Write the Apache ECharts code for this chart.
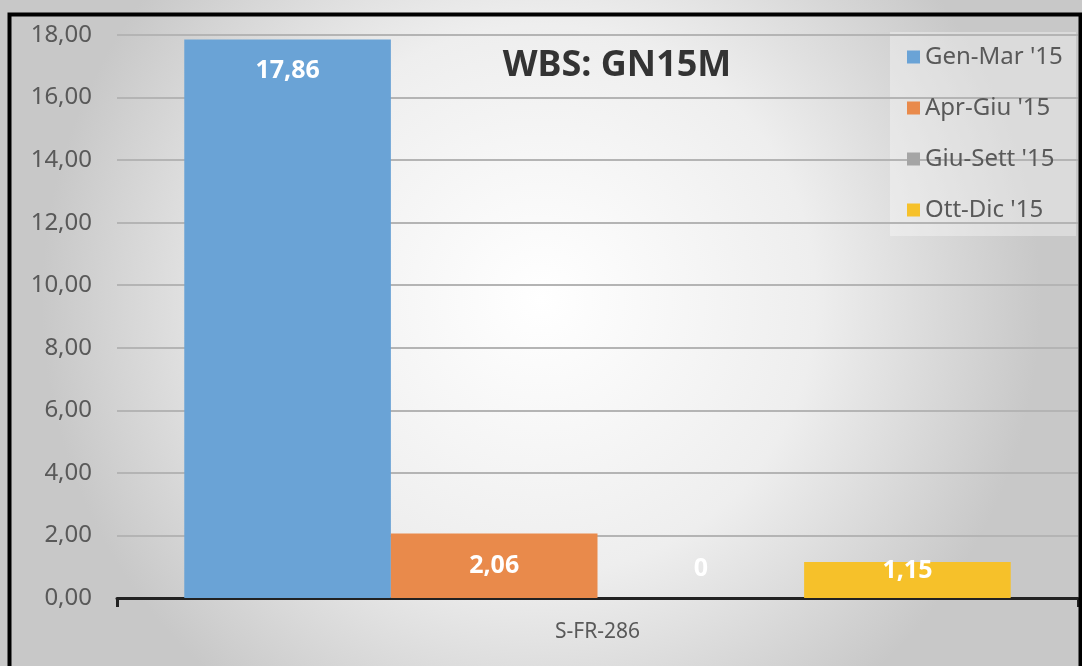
<!DOCTYPE html>
<html lang="it">
<head>
    <meta charset="UTF-8">
    <title>WBS: GN15M</title>
    <script src="https://cdn.jsdelivr.net/npm/echarts@6/dist/echarts.min.js"></script>
    <style>
        html, body { margin: 0; padding: 0; width: 100%; height: 100%; background: #fff; }
        #chart { width: 1082px; height: 666px; }
    </style>
</head>
<body>
<div id="chart"></div>
<script type="text/javascript">
    // dati
    var categories = ['S-FR-286'];
    var seriesNames = ["Gen-Mar '15", "Apr-Giu '15", "Giu-Sett '15", "Ott-Dic '15"];
    var seriesValues = [[17.86], [2.06], [0], [1.15]];
    var seriesColors = ['#6aa3d6', '#e98a4b', '#a5a5a5', '#f6c12a'];

    var FONT = '"Noto Sans", "Open Sans", sans-serif';

    function fmt(v) {
        return v.toFixed(2).replace('.', ',');
    }

    // posizione etichette come nell'originale
    var labelPos = [
        { position: 'insideTop', distance: 19 },
        { position: 'inside' },
        { position: 'inside', offset: [0, -29] },
        { position: 'inside', offset: [0, -9] }
    ];

    var series = seriesNames.map(function (name, i) {
        return {
            name: name,
            type: 'bar',
            barGap: 0,
            barCategoryGap: '14%',
            data: seriesValues[i],
            itemStyle: { color: seriesColors[i] },
            label: Object.assign({
                show: true,
                color: '#ffffff',
                fontWeight: 'bold',
                fontSize: 25,
                fontFamily: FONT,
                formatter: function (p) {
                    return p.value === 0 ? '0' : fmt(p.value);
                }
            }, labelPos[i])
        };
    });

    var myChart = echarts.init(document.getElementById('chart'));

    var option = {
        backgroundColor: {
            type: 'radial', x: 0.5, y: 0.45, r: 0.75,
            colorStops: [
                { offset: 0, color: '#ffffff' },
                { offset: 0.55, color: '#eeeeee' },
                { offset: 1, color: '#c8c8c8' }
            ]
        },
        animation: false,
        title: {
            text: 'WBS: GN15M',
            left: 612,
            top: 43,
            textAlign: 'center',
            textStyle: { fontSize: 36, fontWeight: 'bold', color: '#333333', fontFamily: FONT }
        },
        legend: {
            orient: 'vertical',
            left: 903,
            top: 45,
            itemWidth: 13,
            itemHeight: 13,
            itemGap: 27,
            padding: [0, 4, 0, 4],
            icon: 'rect',
            textStyle: { fontSize: 24, color: '#595959', fontFamily: FONT },
            data: seriesNames
        },
        graphic: [
            {
                type: 'rect',
                left: 890, top: 32,
                shape: { width: 186, height: 204 },
                style: { fill: 'rgba(255,255,255,0.35)' },
                z: -1
            },
            {
                type: 'rect',
                left: 7, top: 12,
                shape: { width: 1071, height: 700 },
                style: { fill: 'none', stroke: '#000000', lineWidth: 4 },
                z: 100
            }
        ],
        grid: {
            left: 117,
            right: 4,
            top: 35,
            bottom: 68
        },
        xAxis: {
            type: 'category',
            data: categories,
            axisLine: { lineStyle: { color: '#222222', width: 3 } },
            axisTick: { show: true, length: 9, lineStyle: { color: '#222222', width: 3 } },
            axisLabel: { fontSize: 21, color: '#595959', fontFamily: FONT, margin: 24 }
        },
        yAxis: {
            type: 'value',
            min: 0,
            max: 18,
            interval: 2,
            axisLine: { show: false },
            axisTick: { show: false },
            splitLine: { lineStyle: { color: '#b4b4b4', width: 2 } },
            axisLabel: {
                fontSize: 24,
                color: '#595959',
                fontFamily: FONT,
                margin: 25,
                formatter: fmt
            }
        },
        series: series
    };

    myChart.setOption(option);
</script>
</body>
</html>
